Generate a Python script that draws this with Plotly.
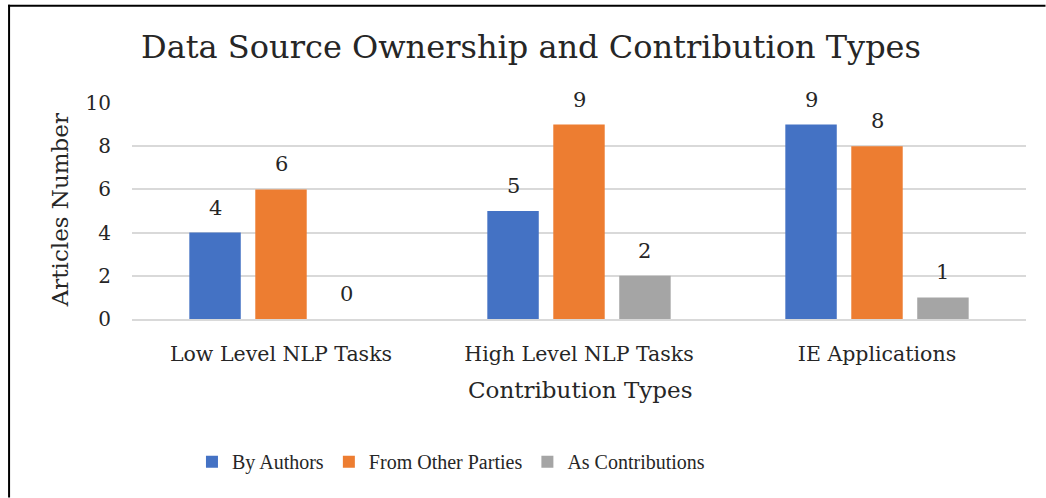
import plotly.graph_objects as go

# --- data -------------------------------------------------------------
categories = ["Low Level NLP Tasks", "High Level NLP Tasks", "IE Applications"]
series_names = ["By Authors", "From Other Parties", "As Contributions"]
by_authors = [4, 5, 9]
other_parties = [6, 9, 8]
as_contributions = [0, 2, 1]
y_ticks = [0, 2, 4, 6, 8, 10]

series_values = [by_authors, other_parties, as_contributions]
colors = ["#4472C4", "#ED7D31", "#A5A5A5"]

# --- layout geometry ---------------------------------------------------
W, H = 1046, 498
L, R, T, B = 132, 19.5, 102.5, 179
BARGAP = 0.336
GROUPGAP = 0.22
FONT = "DejaVu Serif"
LEGEND_FONT = "Liberation Serif"
TEXT = "#262626"


def px_x(px):
    return (px - L) / (W - L - R)


def px_y(py):
    return (H - B - py) / (H - T - B)


fig = go.Figure()
for name, vals, col in zip(series_names, series_values, colors):
    fig.add_trace(go.Bar(x=categories, y=vals, name=name, marker_color=col,
                         marker_line_width=0))

# value labels above each bar, placed at the bar's offset within its group
slot = (1 - BARGAP) / len(series_names)
for j, vals in enumerate(series_values):
    off = (j - (len(series_names) - 1) / 2) * slot
    for i, v in enumerate(vals):
        fig.add_annotation(x=i + off, y=v, xref="x", yref="y", text=str(v),
                           showarrow=False, xanchor="center", yanchor="middle",
                           yshift=25,
                           font=dict(family=FONT, size=21, color=TEXT))

# axis titles
fig.add_annotation(x=px_x(60), y=px_y(210), xref="paper", yref="paper",
                   text="Articles Number", textangle=-90, showarrow=False,
                   xanchor="center", yanchor="middle",
                   font=dict(family=FONT, size=23, color=TEXT))
fig.add_annotation(x=px_x(580), y=px_y(390), xref="paper", yref="paper",
                   text="Contribution Types", showarrow=False,
                   xanchor="center", yanchor="middle",
                   font=dict(family=FONT, size=23, color=TEXT))

# frame lines on top and left edges
fig.add_shape(type="line", xref="paper", yref="paper",
              x0=px_x(8), x1=px_x(W), y0=px_y(5), y1=px_y(5),
              line=dict(color="black", width=2))
fig.add_shape(type="line", xref="paper", yref="paper",
              x0=px_x(9), x1=px_x(9), y0=px_y(4), y1=px_y(H),
              line=dict(color="black", width=2))

fig.update_layout(
    width=W, height=H,
    margin=dict(l=L, r=R, t=T, b=B),
    paper_bgcolor="white", plot_bgcolor="white",
    barmode="group", bargap=BARGAP, bargroupgap=GROUPGAP,
    title=dict(text="Data Source Ownership and Contribution Types",
               x=531 / W, xanchor="center", y=1 - 47 / H, yanchor="middle",
               yref="container",
               font=dict(family=FONT, size=32, color=TEXT)),
    font=dict(family=FONT, color=TEXT),
    showlegend=True,
    legend=dict(orientation="h", x=px_x(192), xanchor="left",
                y=px_y(462), yanchor="middle",
                font=dict(family=LEGEND_FONT, size=20, color=TEXT),
                itemwidth=30, traceorder="normal"),
)
fig.update_yaxes(range=[0, 10], tickvals=y_ticks, showgrid=True,
                 gridcolor="#D9D9D9", gridwidth=1.5, zeroline=False,
                 showline=False, ticks="", ticklabelstandoff=20,
                 tickfont=dict(family=FONT, size=20, color=TEXT),
                 fixedrange=True)
fig.update_xaxes(showgrid=False, showline=True, linecolor="#D9D9D9",
                 linewidth=1.5, ticks="", ticklabelstandoff=16,
                 tickfont=dict(family=FONT, size=20.5, color=TEXT),
                 fixedrange=True)

fig.write_html("out.html")
